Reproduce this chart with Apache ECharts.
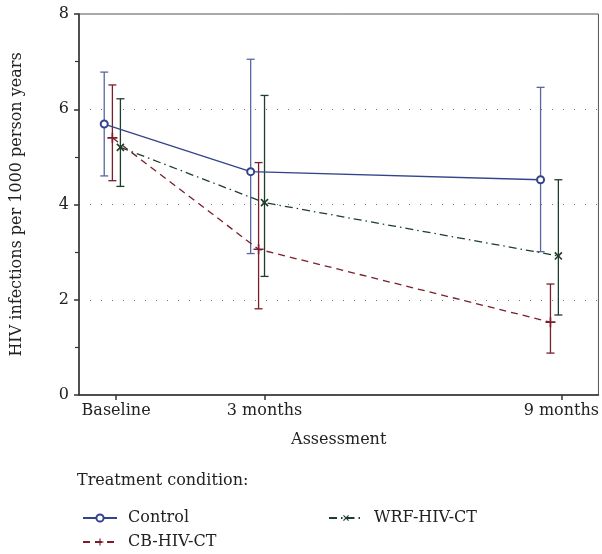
<!DOCTYPE html>
<html>
<head>
<meta charset="utf-8">
<script src="https://cdn.jsdelivr.net/npm/echarts@6/dist/echarts.min.js"></script>
<style>html,body{margin:0;padding:0;background:#fff}#c{width:602px;height:554px}</style>
</head>
<body>
<div id="c"></div>
<script>
// Tick positions (months) and labels
var tickValues = [0, 3, 9];
var tickLabels = ['Baseline', '3 months', '9 months'];

// Control
var controlX = [-0.24, 2.72, 8.58];
var controlY = [5.69, 4.69, 4.52];
var controlLow = [4.60, 2.97, 3.01];
var controlHigh = [6.78, 7.05, 6.46];
// CB-HIV-CT
var cbX = [-0.075, 2.88, 8.78];
var cbY = [5.40, 3.06, 1.53];
var cbLow = [4.50, 1.81, 0.88];
var cbHigh = [6.51, 4.88, 2.33];
// WRF-HIV-CT
var wrfX = [0.087, 3.0, 8.94];
var wrfY = [5.20, 4.04, 2.92];
var wrfLow = [4.38, 2.49, 1.68];
var wrfHigh = [6.22, 6.29, 4.52];

var names = ['Control', 'CB-HIV-CT', 'WRF-HIV-CT'];
var colors = ['#34448a', '#7a1e2c', '#1f3d2c'];
var barColors = ['#5867a0', '#7a1e2c', '#1f3d2c'];

function pts(xs, ys) { return xs.map(function (x, i) { return [x, ys[i]]; }); }
function bars(xs, lo, hi) { return xs.map(function (x, i) { return [x, lo[i], hi[i]]; }); }

function errorSeries(data, color) {
  return {
    type: 'custom',
    data: data,
    encode: { x: 0, y: [1, 2] },
    silent: true,
    z: 1,
    renderItem: function (params, api) {
      var top = api.coord([api.value(0), api.value(2)]);
      var bot = api.coord([api.value(0), api.value(1)]);
      var w = 4;
      var st = { stroke: color, lineWidth: 1.3 };
      return {
        type: 'group',
        children: [
          { type: 'line', shape: { x1: top[0], y1: top[1], x2: bot[0], y2: bot[1] }, style: st },
          { type: 'line', shape: { x1: top[0] - w, y1: top[1], x2: top[0] + w, y2: top[1] }, style: st },
          { type: 'line', shape: { x1: bot[0] - w, y1: bot[1], x2: bot[0] + w, y2: bot[1] }, style: st }
        ]
      };
    }
  };
}

var plusPath = 'path://M4.2,0 L5.8,0 L5.8,4.2 L10,4.2 L10,5.8 L5.8,5.8 L5.8,10 L4.2,10 L4.2,5.8 L0,5.8 L0,4.2 L4.2,4.2 Z';
var serif = '"DejaVu Serif", "Liberation Serif", serif';
var fs = 16;

function legendAt(name, left, top) {
  return {
    data: [name], left: left, top: top,
    itemWidth: 34, itemHeight: 9, itemGap: 8,
    textStyle: { fontFamily: serif, fontSize: fs, color: '#222', padding: [0, 0, 0, 6] }
  };
}

var chart = echarts.init(document.getElementById('c'));
chart.setOption({
  animation: false,
  textStyle: { fontFamily: serif },
  grid: { left: 79, right: 3, top: 14, bottom: 159, show: true, borderColor: '#555', borderWidth: 1, containLabel: false },
  graphic: [
    { type: 'text', left: 77, top: 473, style: { text: 'Treatment condition:', font: fs + 'px ' + serif, fill: '#222' } }
  ],
  legend: [
    legendAt('Control', 77, 505),
    legendAt('WRF-HIV-CT', 323, 505),
    legendAt('CB-HIV-CT', 77, 529)
  ],
  xAxis: {
    type: 'value', min: -0.75, max: 9.75,
    name: 'Assessment', nameLocation: 'middle', nameGap: 37,
    nameTextStyle: { fontFamily: serif, fontSize: fs, color: '#222' },
    axisLine: { onZero: false, lineStyle: { color: '#333', width: 1.5 } },
    axisTick: { customValues: tickValues, length: 5, lineStyle: { color: '#333', width: 1.5 } },
    axisLabel: {
      customValues: tickValues, fontFamily: serif, fontSize: fs, color: '#222', margin: 8,
      formatter: function (v) { var i = tickValues.indexOf(v); return i >= 0 ? tickLabels[i] : ''; }
    },
    splitLine: { show: false }
  },
  yAxis: {
    type: 'value', min: 0, max: 8, interval: 2,
    name: 'HIV infections per 1000 person years', nameLocation: 'middle', nameGap: 54,
    nameTextStyle: { fontFamily: serif, fontSize: fs, color: '#222' },
    axisLine: { show: true, onZero: false, lineStyle: { color: '#333', width: 1.5 } },
    axisTick: { show: true, length: 5, lineStyle: { color: '#333', width: 1.5 } },
    minorTick: { show: true, splitNumber: 2, length: 4, lineStyle: { color: '#333', width: 1.2 } },
    axisLabel: { fontFamily: serif, fontSize: fs, color: '#222', margin: 10 },
    splitLine: {
      show: true, showMinLine: false, showMaxLine: false,
      lineStyle: { color: '#777', type: [1, 10], width: 1.2 }
    }
  },
  series: [
    errorSeries(bars(controlX, controlLow, controlHigh), barColors[0]),
    errorSeries(bars(cbX, cbLow, cbHigh), barColors[1]),
    errorSeries(bars(wrfX, wrfLow, wrfHigh), barColors[2]),
    {
      name: names[0], type: 'line', data: pts(controlX, controlY), z: 3,
      symbol: 'emptyCircle', symbolSize: 7,
      lineStyle: { color: colors[0], width: 1.3, type: 'solid' },
      itemStyle: { color: colors[0], borderColor: colors[0], borderWidth: 1.2 }
    },
    {
      name: names[1], type: 'line', data: pts(cbX, cbY), z: 3,
      symbol: plusPath, symbolSize: 10,
      lineStyle: { color: colors[1], width: 1.3, type: [7, 5] },
      itemStyle: { color: colors[1] }
    },
    {
      name: names[2], type: 'line', data: pts(wrfX, wrfY), z: 3,
      symbol: plusPath, symbolSize: 10, symbolRotate: 45,
      lineStyle: { color: colors[2], width: 1.3, type: [8, 4, 1.5, 4] },
      itemStyle: { color: colors[2] }
    }
  ]
});
</script>
</body>
</html>
